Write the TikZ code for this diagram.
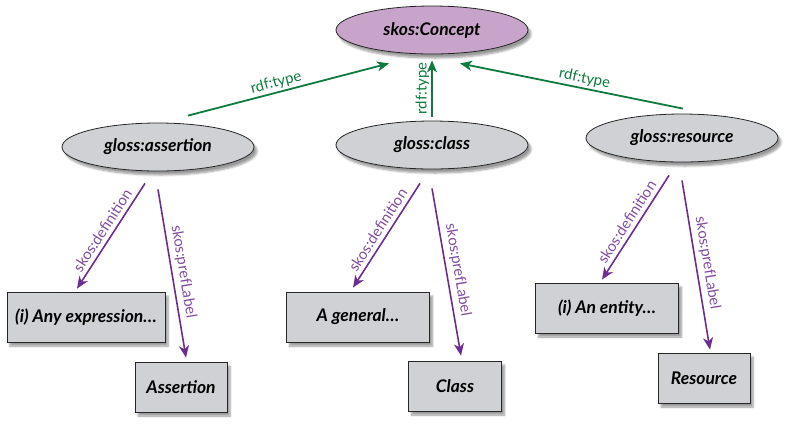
\documentclass[tikz,border=0pt]{standalone}
\usepackage{fontspec}
\setmainfont{Lato}
\usetikzlibrary{arrows.meta,calc,shapes,shadows.blur}
\definecolor{conceptfill}{HTML}{C8A4CA}
\definecolor{glossfill}{HTML}{CFD1D4}
\definecolor{typegreen}{HTML}{0E7A3E}
\definecolor{skospurple}{HTML}{6B2D8F}
\newcommand\nodefont{\fontsize{17.5}{20}\selectfont\bfseries\itshape}
\newcommand\edgefont{\fontsize{15}{18}\selectfont}

\begin{document}
\begin{tikzpicture}[x=1bp,y=-1bp]
\tikzset{shade box/.style={draw=black!85,line width=.8bp,fill=glossfill,font=\nodefont,
    blur shadow={shadow xshift=3bp,shadow yshift=-4bp,shadow blur steps=6}}}
\tikzset{res/.style={shade box,ellipse,minimum width=192bp,minimum height=48bp}}
\tikzset{lit/.style={shade box,rectangle,minimum height=50bp}}
\tikzset{type arrow/.style={draw=typegreen,line width=1.8bp,-{Stealth[length=12bp,width=10bp,inset=3.5bp]}}}
\tikzset{skos arrow/.style={draw=skospurple,line width=1.6bp,-{Stealth[length=12bp,width=10bp,inset=3.5bp]}}}
\tikzset{edge lbl/.style={font=\edgefont,sloped,above,inner sep=2bp}}
\tikzset{skos lbl/.style={edge lbl,text=skospurple!85,inner sep=4bp}}
\useasboundingbox (0,0) rectangle (800,431);

% resources
\node[res,fill=conceptfill](concept)at(432,30){skos:Concept};
\node[res](assertion)at(158,147){gloss:assertion};
\node[res](class)at(432,145){gloss:class};
\node[res](resource)at(682,138){gloss:resource};

% literals
\node[lit,minimum width=158bp](anyexpr)at(86,317){(i) Any expression…};
\node[lit,minimum width=92bp](assertionlbl)at(181,387){Assertion};
\node[lit,minimum width=143bp](general)at(358,317){A general…};
\node[lit,minimum width=93bp](classlbl)at(455,386){Class};
\node[lit,minimum width=143bp](entity)at(607,308){(i) An entity…};
\node[lit,minimum width=92bp](resourcelbl)at(704,378){Resource};

% rdf:type
\draw[type arrow]($(assertion.north)+(30,-7)$)--($(concept.south)+(-43,9)$)
  node[edge lbl,text=typegreen,pos=.45]{rdf:type};
\draw[type arrow]($(class.north)+(0,-4)$)--($(concept.south)+(0,6)$)
  node[edge lbl,text=typegreen,pos=.5]{rdf:type};
\draw[type arrow]($(resource.north)+(1,-5)$)--($(concept.south)+(28,9)$)
  node[edge lbl,text=typegreen,pos=.45]{rdf:type};

% skos properties
\draw[skos arrow]($(assertion.south)+(-13,12)$)--($(anyexpr.north)+(-9,-3)$)
  node[skos lbl,pos=.5]{skos:definition};
\draw[skos arrow]($(assertion.south)+(0,18)$)--($(assertionlbl.north)+(5,-4)$)
  node[skos lbl,pos=.5]{skos:prefLabel};
\draw[skos arrow]($(class.south)+(-12,14)$)--($(general.north)+(-5,-4)$)
  node[skos lbl,pos=.5]{skos:definition};
\draw[skos arrow]($(class.south)+(0,19)$)--($(classlbl.north)+(6,-5)$)
  node[skos lbl,pos=.5]{skos:prefLabel};
\draw[skos arrow]($(resource.south)+(-13,13)$)--($(entity.north)+(-5,-3)$)
  node[skos lbl,pos=.5]{skos:definition};
\draw[skos arrow]($(resource.south)+(0,18)$)--($(resourcelbl.north)+(6,-3)$)
  node[skos lbl,pos=.5]{skos:prefLabel};
\end{tikzpicture}
\end{document}
